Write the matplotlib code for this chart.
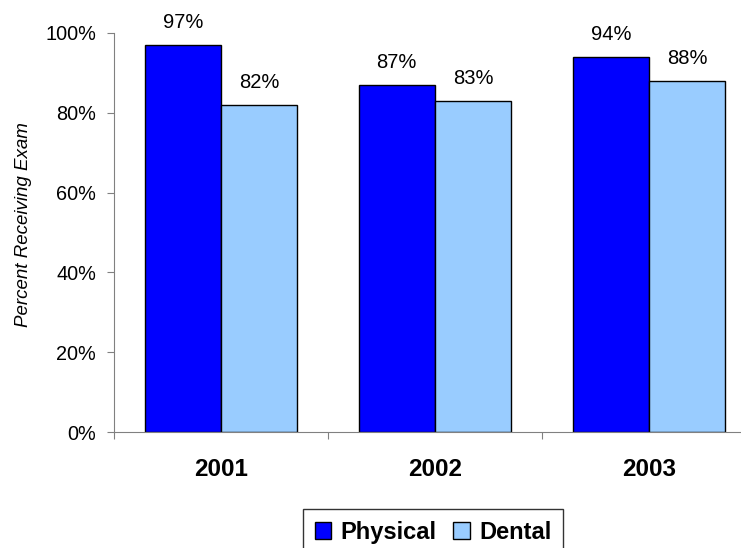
import numpy as np
import matplotlib.pyplot as plt
from matplotlib.patches import Patch

plt.rcParams['font.family'] = ['Liberation Sans', 'DejaVu Sans']

years = ['2001', '2002', '2003']
physical = [97, 87, 94]
dental = [82, 83, 88]

phys_color = '#0000FF'
dent_color = '#99CCFF'
axis_grey = '#808080'

fig = plt.figure(figsize=(7.41, 5.48), dpi=100)
# axes run slightly past the right edge, like the original layout
ax = fig.add_axes([114 / 741, 116 / 548, 642 / 741, 399 / 548])

x = np.arange(len(years))
w = 0.357
b1 = ax.bar(x - w / 2, physical, w, color=phys_color, edgecolor='black', linewidth=1)
b2 = ax.bar(x + w / 2, dental, w, color=dent_color, edgecolor='black', linewidth=1)

for bars, vals in ((b1, physical), (b2, dental)):
    for rect, v in zip(bars, vals):
        ax.annotate(f'{v}%', (rect.get_x() + rect.get_width() / 2, v),
                    xytext=(0, 9), textcoords='offset points',
                    ha='center', va='bottom', fontsize=14.5)

ax.set_xlim(-0.5, 2.5)
ax.set_ylim(0, 100)
ax.set_yticks(range(0, 101, 20))
ax.set_yticklabels([f'{t}%' for t in range(0, 101, 20)], fontsize=14.3)

# tick marks at category edges, year labels at centres
ax.set_xticks([-0.5, 0.5, 1.5, 2.5])
ax.set_xticklabels([])
ax.set_xticks(x, minor=True)
ax.set_xticklabels(years, minor=True, fontsize=17.5, fontweight='bold')
ax.tick_params(axis='x', which='minor', length=0, pad=19)
ax.tick_params(axis='x', which='major', length=5, color=axis_grey)
ax.tick_params(axis='y', length=5, color=axis_grey, pad=8)

ax.set_ylabel('Percent Receiving Exam', fontsize=13.5, style='italic')
ax.yaxis.set_label_coords(-0.128, 0.52)

for s in ('top', 'right'):
    ax.spines[s].set_visible(False)
for s in ('left', 'bottom'):
    ax.spines[s].set_color(axis_grey)

handles = [Patch(facecolor=phys_color, edgecolor='black', label='Physical'),
           Patch(facecolor=dent_color, edgecolor='black', label='Dental')]
leg = fig.legend(handles=handles, loc='upper center', bbox_to_anchor=(433 / 741, 1 - 509 / 548),
                 ncol=2, frameon=True, fancybox=False, edgecolor='black',
                 prop={'weight': 'bold', 'size': 17}, handlelength=0.7, handleheight=0.7,
                 handletextpad=0.4, columnspacing=0.7, borderpad=0.5, borderaxespad=0)
leg.get_frame().set_linewidth(1)

fig.savefig('out.png', dpi=100)
